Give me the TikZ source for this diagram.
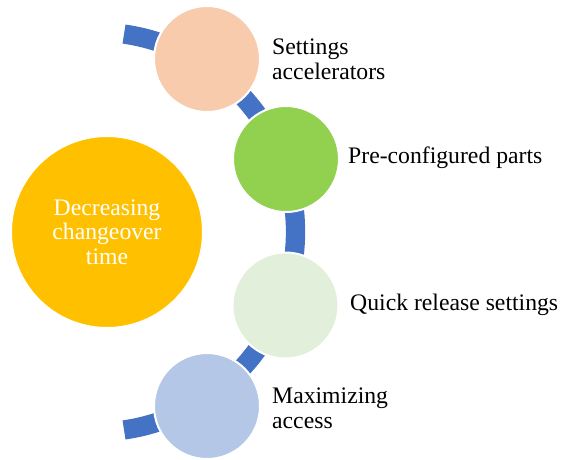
\documentclass[tikz,border=0pt]{standalone}
\usepackage{fontspec}
\setmainfont{Liberation Serif}
\usetikzlibrary{calc}
\definecolor{arcblue}{HTML}{4472C4}
\definecolor{hubgold}{HTML}{FFC000}
\definecolor{peach}{HTML}{F8CBAD}
\definecolor{leafgreen}{HTML}{92D050}
\definecolor{palegreen}{HTML}{E2EFDA}
\definecolor{paleblue}{HTML}{B4C7E7}
\begin{document}
\begin{tikzpicture}[x=1pt,y=-1pt,
  bubble/.style={circle, draw=white, line width=2pt, minimum size=106pt, inner sep=0pt},
  caption/.style={anchor=base west, font=\fontsize{23.7}{24.5}\selectfont, text=black, align=left, inner sep=0pt}]
\useasboundingbox (0,0) rectangle (563,459);
\coordinate (hub) at (95.5,232);
% thick arc behind the step circles
\draw[arcblue, line width=19.3pt] ($(hub)+(-81.8:200)$) arc[start angle=-81.8, end angle=81.8, radius=200];
% main topic
\node[circle, fill=hubgold, draw=white, line width=1pt, minimum size=191pt, inner sep=0pt,
      text=white, align=center, font=\fontsize{23.7}{24.5}\selectfont] (topic) at (107,232)
      {Decreasing\\changeover\\time};
% step circles
\node[bubble, fill=peach] (s1) at (207,59) {};
\node[bubble, fill=leafgreen] (s2) at (286,159) {};
\node[bubble, fill=palegreen] (s3) at (285.5,305.5) {};
\node[bubble, fill=paleblue] (s4) at (207,406) {};
% step captions (base anchor sits on the last line)
\node[caption] (t1) at (272,79) {Settings\\accelerators};
\node[caption] (t2) at (348,163) {Pre-configured parts};
\node[caption] (t3) at (350,310) {Quick release settings};
\node[caption] (t4) at (272,428) {Maximizing\\access};
\end{tikzpicture}
\end{document}
